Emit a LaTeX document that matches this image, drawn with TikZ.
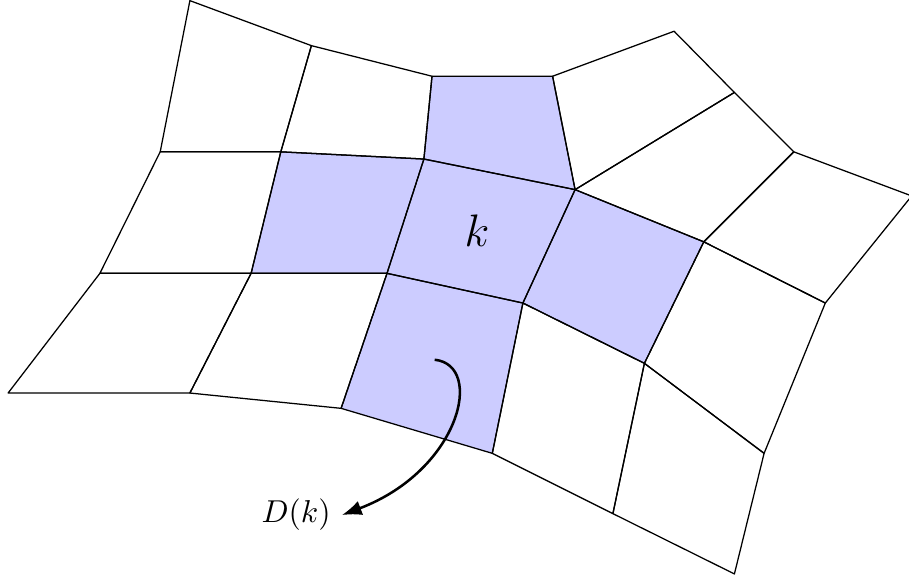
\documentclass[tikz,border=0pt]{standalone}
\usetikzlibrary{arrows.meta}

\begin{document}
\begin{tikzpicture}[
        cell/.style={draw, line join=round},
        marked/.style={fill=blue!20},
        pointer/.style={thick, -{Latex[length=2.2mm]}},
    ]
        \useasboundingbox (0,0) rectangle (10.1,6.467);

        % Mesh vertices
        \foreach \n/\x/\y in {
            1/2.11/6.46, 2/3.46/5.96, 3/4.80/5.62, 4/6.14/5.62, 5/7.49/6.12,
            6/1.78/4.78, 7/3.12/4.78, 8/4.71/4.70, 9/6.39/4.36, 10/8.16/5.44,
            11/8.82/4.78, 12/10.13/4.29,
            13/1.11/3.43, 14/2.79/3.43, 15/4.30/3.43, 16/5.81/3.10,
            17/7.82/3.78, 18/9.17/3.10,
            19/0.09/2.10, 20/2.11/2.10, 21/3.79/1.93, 22/5.47/1.43,
            23/7.16/2.43, 24/8.49/1.43,
            25/6.81/0.76, 26/8.16/0.09} {
            \coordinate (p\n) at (\x,\y);
        }

        % Cell k and its neighbours
        \foreach \a/\b/\c/\d in {3/4/9/8, 7/8/15/14, 8/9/16/15, 9/17/23/16, 15/16/22/21} {
            \fill[marked] (p\a) -- (p\b) -- (p\c) -- (p\d) -- cycle;
        }

        % All cells
        \foreach \a/\b/\c/\d in {
            1/2/7/6, 2/3/8/7, 3/4/9/8, 4/5/10/9, 9/10/11/17, 17/11/12/18,
            6/7/14/13, 7/8/15/14, 8/9/16/15, 9/17/23/16, 17/18/24/23,
            13/14/20/19, 14/15/21/20, 15/16/22/21, 16/23/25/22, 23/24/26/25} {
            \draw[cell] (p\a) -- (p\b) -- (p\c) -- (p\d) -- cycle;
        }

        % Labels
        \node (k) at (5.30,3.90) {\Large $k$};
        \node (dk) at (3.29,0.744) {$D(k)$};

        \coordinate (src) at (4.83,2.47);
        \draw[pointer] (src) .. controls (5.39,2.41) and (5.11,1.24) .. (dk.east);
    \end{tikzpicture}
\end{document}
